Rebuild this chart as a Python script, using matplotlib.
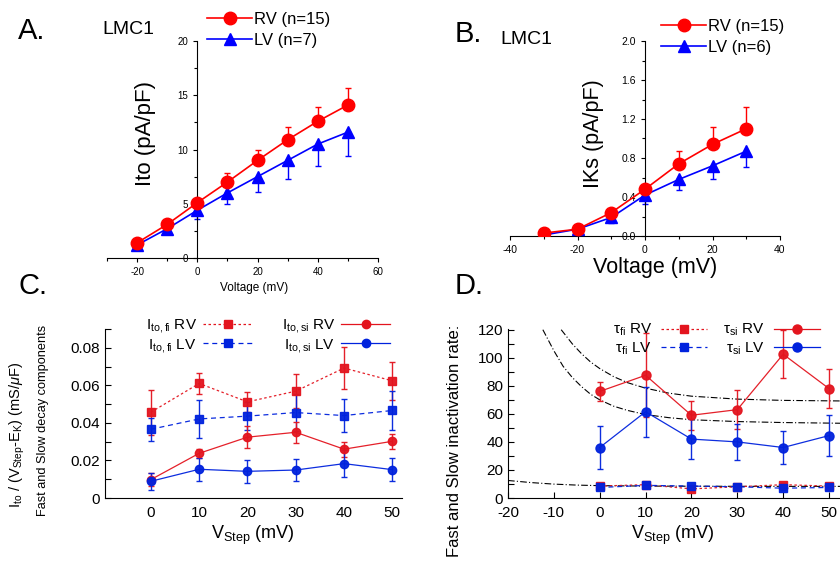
import numpy as np
import matplotlib
matplotlib.use("Agg")
import matplotlib.pyplot as plt
from matplotlib.lines import Line2D
from matplotlib.ticker import MultipleLocator, FormatStrFormatter

plt.rcParams['font.family'] = ['Liberation Sans', 'DejaVu Sans']
plt.rcParams['mathtext.fontset'] = 'custom'
plt.rcParams['mathtext.rm'] = 'Liberation Sans'
plt.rcParams['mathtext.it'] = 'Liberation Sans:italic'
plt.rcParams['mathtext.bf'] = 'Liberation Sans:bold'
plt.rcParams['axes.unicode_minus'] = False

# ---------------- data ----------------
# Panel A: Ito
a_volt = [-20, -10, 0, 10, 20, 30, 40, 50]
a_rv = [1.4, 3.1, 5.1, 7.0, 9.0, 10.9, 12.6, 14.1]
a_rv_err = [0.2, 0.3, 0.3, 0.8, 1.0, 1.2, 1.3, 1.6]
a_lv = [1.2, 2.7, 4.4, 6.0, 7.5, 9.0, 10.5, 11.6]
a_lv_err = [0.3, 0.4, 0.8, 1.0, 1.4, 1.7, 2.0, 2.2]

# Panel B: IKs
b_volt = [-30, -20, -10, 0, 10, 20, 30]
b_rv = [0.03, 0.07, 0.24, 0.48, 0.74, 0.94, 1.10]
b_rv_err = [0.02, 0.02, 0.03, 0.04, 0.13, 0.18, 0.22]
b_lv = [0.01, 0.07, 0.19, 0.42, 0.58, 0.72, 0.87]
b_lv_err = [0.03, 0.03, 0.06, 0.09, 0.11, 0.14, 0.16]

# Panel C: conductances
c_step = [0, 10, 20, 30, 40, 50]
c_fi_rv = [0.0457, 0.061, 0.0512, 0.0569, 0.0692, 0.0624]
c_fi_rv_err = [0.012, 0.0055, 0.0053, 0.009, 0.011, 0.010]
c_fi_lv = [0.0366, 0.0421, 0.0436, 0.0455, 0.0439, 0.0466]
c_fi_lv_err = [0.006, 0.010, 0.0075, 0.010, 0.009, 0.0105]
c_si_rv = [0.0098, 0.0238, 0.0324, 0.035, 0.026, 0.0302]
c_si_rv_err = [0.0035, 0.0025, 0.0058, 0.0055, 0.004, 0.004]
c_si_lv = [0.0089, 0.0153, 0.0142, 0.0149, 0.0183, 0.0151]
c_si_lv_err = [0.0045, 0.006, 0.006, 0.006, 0.0072, 0.006]

# Panel D: inactivation rates
d_step = [0, 10, 20, 30, 40, 50]
d_si_rv = [76, 87.5, 59, 63, 102.5, 78]
d_si_rv_err = [7, 30, 10.5, 14, 17, 14]
d_si_lv = [36, 61.5, 42, 40, 36, 44.5]
d_si_lv_err = [15, 18, 14, 13, 11.5, 14.5]
d_fi_rv = [8.5, 9.5, 6.5, 8, 9.5, 8.5]
d_fi_rv_err = [1.5, 1.5, 1.5, 1, 1.5, 1]
d_fi_lv = [7.5, 9, 8.5, 8, 7, 7.5]
d_fi_lv_err = [1, 1, 1, 1, 1, 1]

# fitted curves
fit1_x = [-8.4, -6, -4, -2, 0, 3, 6, 10, 15, 20, 30, 40, 52.5]
fit1_y = [120, 110, 103, 97, 92.3, 86.6, 82.3, 78.3, 74.8, 72.6, 70.5, 69.6, 69.2]
fit2_x = [-12.4, -10, -8, -6, -4, -2, 0, 3, 6, 10, 15, 20, 30, 40, 52.5]
fit2_y = [120, 105, 94, 86, 79.5, 74, 70, 65.5, 62.5, 59.5, 57.3, 55.8, 54.5, 53.8, 53.3]
fit3_x = [-20, -15, -10, -5, 0, 10, 20, 35, 52.5]
fit3_y = [12.5, 11, 9.9, 9.2, 8.8, 8.5, 8.4, 8.3, 8.3]

W, H = 840, 567
fig = plt.figure(figsize=(8.4, 5.67), dpi=100)

def rect(l, t, r, b):
    return [l / W, 1 - b / H, (r - l) / W, (b - t) / H]

RED_AB, BLUE_AB = '#ff0000', '#0000ff'
RED, BLUE = '#e3141e', '#0022dd'

# ---------------- Panel A ----------------
axA = fig.add_axes(rect(107, 41, 378, 258))
axA.plot(a_volt, a_rv, color=RED_AB, lw=1.2, zorder=3)
axA.plot(a_volt, a_lv, color=BLUE_AB, lw=1.2, zorder=2)
axA.errorbar(a_volt, a_rv, yerr=[np.zeros(len(a_rv)), a_rv_err], fmt='none',
             ecolor=RED_AB, elinewidth=1, capsize=2, zorder=2)
axA.errorbar(a_volt, a_lv, yerr=[a_lv_err, np.zeros(len(a_lv))], fmt='none',
             ecolor=BLUE_AB, elinewidth=1, capsize=2, zorder=2)
axA.plot(a_volt, a_lv, ls='none', marker='^', ms=9, color=BLUE_AB, zorder=4)
axA.plot(a_volt, a_rv, ls='none', marker='o', ms=9, color=RED_AB, zorder=5)
axA.set_xlim(-30, 60)
axA.set_ylim(0, 20)
axA.spines['left'].set_position(('data', 0))
axA.spines['top'].set_visible(False)
axA.spines['right'].set_visible(False)
axA.xaxis.set_major_locator(MultipleLocator(20))
axA.xaxis.set_minor_locator(MultipleLocator(10))
axA.yaxis.set_major_locator(MultipleLocator(5))
axA.yaxis.set_minor_locator(MultipleLocator(2.5))
axA.tick_params(which='both', direction='out', labelsize=7, width=0.8)
axA.tick_params(which='major', length=3)
axA.tick_params(which='minor', length=2)
fig.text(146 / W, 1 - 134 / H, 'Ito (pA/pF)', rotation=90, ha='center', va='center', fontsize=16)
fig.text(254 / W, 1 - 288 / H, 'Voltage (mV)', ha='center', va='center', fontsize=8.5)
fig.text(18 / W, 1 - 31 / H, 'A.', ha='left', va='center', fontsize=21)
fig.text(102 / W, 1 - 30 / H, 'LMC1', ha='left', va='center', fontsize=14)
hA = [Line2D([], [], color=RED_AB, marker='o', ms=9, lw=1.2, label='RV (n=15)'),
      Line2D([], [], color=BLUE_AB, marker='^', ms=9, lw=1.2, label='LV (n=7)')]
fig.legend(handles=hA, loc='upper left', bbox_to_anchor=(207 / W, 1 - 12 / H), frameon=False,
           fontsize=12, handlelength=2.7, handletextpad=0.15, labelspacing=0.35,
           borderpad=0, borderaxespad=0)

# ---------------- Panel B ----------------
axB = fig.add_axes(rect(510, 41, 780, 236))
axB.plot(b_volt, b_rv, color=RED_AB, lw=1.2, zorder=3)
axB.plot(b_volt, b_lv, color=BLUE_AB, lw=1.2, zorder=2)
axB.errorbar(b_volt, b_rv, yerr=[np.zeros(len(b_rv)), b_rv_err], fmt='none',
             ecolor=RED_AB, elinewidth=1, capsize=2, zorder=2)
axB.errorbar(b_volt, b_lv, yerr=[b_lv_err, np.zeros(len(b_lv))], fmt='none',
             ecolor=BLUE_AB, elinewidth=1, capsize=2, zorder=2)
axB.plot(b_volt, b_lv, ls='none', marker='^', ms=9, color=BLUE_AB, zorder=4)
axB.plot(b_volt, b_rv, ls='none', marker='o', ms=9, color=RED_AB, zorder=5)
axB.set_xlim(-40, 40)
axB.set_ylim(0, 2.0)
axB.spines['left'].set_position(('data', 0))
axB.spines['top'].set_visible(False)
axB.spines['right'].set_visible(False)
axB.xaxis.set_major_locator(MultipleLocator(20))
axB.xaxis.set_minor_locator(MultipleLocator(10))
axB.yaxis.set_major_locator(MultipleLocator(0.4))
axB.yaxis.set_minor_locator(MultipleLocator(0.2))
axB.yaxis.set_major_formatter(FormatStrFormatter('%.1f'))
axB.tick_params(which='both', direction='out', labelsize=7.5, width=0.8)
axB.tick_params(which='major', length=3)
axB.tick_params(which='minor', length=2)
fig.text(594 / W, 1 - 134 / H, 'IKs (pA/pF)', rotation=90, ha='center', va='center', fontsize=15.5)
fig.text(655 / W, 1 - 268 / H, 'Voltage (mV)', ha='center', va='center', fontsize=15.5)
fig.text(455 / W, 1 - 34 / H, 'B.', ha='left', va='center', fontsize=21)
fig.text(500 / W, 1 - 40 / H, 'LMC1', ha='left', va='center', fontsize=14)
hB = [Line2D([], [], color=RED_AB, marker='o', ms=9, lw=1.2, label='RV (n=15)'),
      Line2D([], [], color=BLUE_AB, marker='^', ms=9, lw=1.2, label='LV (n=6)')]
fig.legend(handles=hB, loc='upper left', bbox_to_anchor=(661 / W, 1 - 19 / H), frameon=False,
           fontsize=12, handlelength=2.7, handletextpad=0.15, labelspacing=0.35,
           borderpad=0, borderaxespad=0)

# ---------------- Panel C ----------------
axC = fig.add_axes(rect(105, 329, 402, 498))
dash_r = (0, (2, 2))
dash_b = (0, (4, 3))
axC.errorbar(c_step, c_fi_rv, yerr=c_fi_rv_err, color=RED, ls=dash_r, lw=0.9, marker='s', ms=6,
             ecolor=RED, elinewidth=1, capsize=2.5, alpha=0.95)
axC.errorbar(c_step, c_fi_lv, yerr=c_fi_lv_err, color=BLUE, ls=dash_b, lw=0.9, marker='s', ms=6,
             ecolor=BLUE, elinewidth=1, capsize=2.5, alpha=0.95)
axC.errorbar(c_step, c_si_rv, yerr=c_si_rv_err, color=RED, ls='-', lw=0.9, marker='o', ms=6,
             ecolor=RED, elinewidth=1, capsize=2.5, alpha=0.95)
axC.errorbar(c_step, c_si_lv, yerr=c_si_lv_err, color=BLUE, ls='-', lw=0.9, marker='o', ms=6,
             ecolor=BLUE, elinewidth=1, capsize=2.5, alpha=0.95)
axC.set_xlim(-9.5, 52)
axC.set_ylim(0, 0.09)
axC.spines['top'].set_visible(False)
axC.spines['right'].set_visible(False)
axC.set_xticks(c_step)
axC.yaxis.set_major_locator(MultipleLocator(0.02))
axC.yaxis.set_minor_locator(MultipleLocator(0.01))
axC.set_yticks([0, 0.02, 0.04, 0.06, 0.08])
axC.set_yticklabels(['0', '0.02', '0.04', '0.06', '0.08'])
axC.tick_params(which='both', direction='in', labelsize=11, width=0.8)
axC.tick_params(which='major', length=4)
axC.tick_params(which='minor', length=4)
axC.tick_params(axis='x', length=0, pad=6)
fig.text(253 / W, 1 - 535 / H, r'V$_{\rm Step}$ (mV)', ha='center', va='center', fontsize=13)
fig.text(17 / W, 1 - 435 / H, r'I$_{\rm to}$ / (V$_{\rm Step}$-E$_{\rm K}$) (mS/$\mu$F)',
         rotation=90, ha='center', va='center', fontsize=10.5)
fig.text(43 / W, 1 - 420 / H, 'Fast and Slow decay components', rotation=90,
         ha='center', va='center', fontsize=9.2)
fig.text(18 / W, 1 - 286 / H, 'C.', ha='left', va='center', fontsize=21)
hC1 = [Line2D([], [], color=RED, ls=dash_r, lw=0.9, marker='s', ms=6, label=r'I$_{\rm to,fi}$ RV'),
       Line2D([], [], color=BLUE, ls=dash_b, lw=0.9, marker='s', ms=6, label=r'I$_{\rm to,fi}$ LV')]
hC2 = [Line2D([], [], color=RED, lw=0.9, marker='o', ms=6, label=r'I$_{\rm to,si}$ RV'),
       Line2D([], [], color=BLUE, lw=0.9, marker='o', ms=6, label=r'I$_{\rm to,si}$ LV')]
fig.legend(handles=hC1, loc='upper right', bbox_to_anchor=(252 / W, 1 - 317 / H),
           frameon=False, markerfirst=False, fontsize=11, handlelength=3.2,
           handletextpad=0.4, labelspacing=0.1, borderpad=0, borderaxespad=0)
fig.legend(handles=hC2, loc='upper right', bbox_to_anchor=(390 / W, 1 - 317 / H),
           frameon=False, markerfirst=False, fontsize=11, handlelength=3.2,
           handletextpad=0.4, labelspacing=0.1, borderpad=0, borderaxespad=0)

# ---------------- Panel D ----------------
axD = fig.add_axes(rect(508, 329, 840.5, 498))
fitstyle = dict(color='black', lw=0.8, ls=(0, (6, 2, 1, 2)), zorder=1)
axD.plot(fit1_x, fit1_y, **fitstyle)
axD.plot(fit2_x, fit2_y, **fitstyle)
axD.plot(fit3_x, fit3_y, **fitstyle)
axD.errorbar(d_step, d_fi_rv, yerr=d_fi_rv_err, color=RED, ls=dash_r, lw=0.9, marker='s', ms=6,
             ecolor=RED, elinewidth=1, capsize=2.5, alpha=0.95, zorder=2)
axD.errorbar(d_step, d_fi_lv, yerr=d_fi_lv_err, color=BLUE, ls=dash_b, lw=0.9, marker='s', ms=6,
             ecolor=BLUE, elinewidth=1, capsize=2.5, alpha=0.95, zorder=2)
axD.errorbar(d_step, d_si_rv, yerr=d_si_rv_err, color=RED, ls='-', lw=0.9, marker='o', ms=6.5,
             ecolor=RED, elinewidth=1, capsize=2.5, alpha=0.95, zorder=3)
axD.errorbar(d_step, d_si_lv, yerr=d_si_lv_err, color=BLUE, ls='-', lw=0.9, marker='o', ms=6.5,
             ecolor=BLUE, elinewidth=1, capsize=2.5, alpha=0.95, zorder=3)
axD.set_xlim(-20, 52.5)
axD.set_ylim(0, 120.5)
axD.spines['top'].set_visible(False)
axD.spines['right'].set_visible(False)
axD.xaxis.set_major_locator(MultipleLocator(10))
axD.yaxis.set_major_locator(MultipleLocator(20))
axD.yaxis.set_minor_locator(MultipleLocator(10))
axD.set_yticks([0, 20, 40, 60, 80, 100, 120])
axD.tick_params(which='both', direction='in', labelsize=11, width=0.8)
axD.tick_params(which='major', length=4)
axD.tick_params(which='minor', length=4)
axD.tick_params(axis='x', pad=6)
fig.text(673 / W, 1 - 535 / H, r'V$_{\rm Step}$ (mV)', ha='center', va='center', fontsize=13)
fig.text(455 / W, 1 - 441 / H, 'Fast and Slow inactivation rate:', rotation=90,
         ha='center', va='center', fontsize=12)
fig.text(455 / W, 1 - 286 / H, 'D.', ha='left', va='center', fontsize=21)
hD1 = [Line2D([], [], color=RED, ls=dash_r, lw=0.9, marker='s', ms=6, label=r'τ$_{\rm fi}$ RV'),
       Line2D([], [], color=BLUE, ls=dash_b, lw=0.9, marker='s', ms=6, label=r'τ$_{\rm fi}$ LV')]
hD2 = [Line2D([], [], color=RED, lw=0.9, marker='o', ms=6.5, label=r'τ$_{\rm si}$ RV'),
       Line2D([], [], color=BLUE, lw=0.9, marker='o', ms=6.5, label=r'τ$_{\rm si}$ LV')]
fig.legend(handles=hD1, loc='upper right', bbox_to_anchor=(707 / W, 1 - 322 / H),
           frameon=False, markerfirst=False, fontsize=11, handlelength=3.0,
           handletextpad=0.6, labelspacing=0.15, borderpad=0, borderaxespad=0)
fig.legend(handles=hD2, loc='upper right', bbox_to_anchor=(820 / W, 1 - 322 / H),
           frameon=False, markerfirst=False, fontsize=11, handlelength=3.0,
           handletextpad=0.6, labelspacing=0.15, borderpad=0, borderaxespad=0)

fig.savefig('out.png', dpi=100)
